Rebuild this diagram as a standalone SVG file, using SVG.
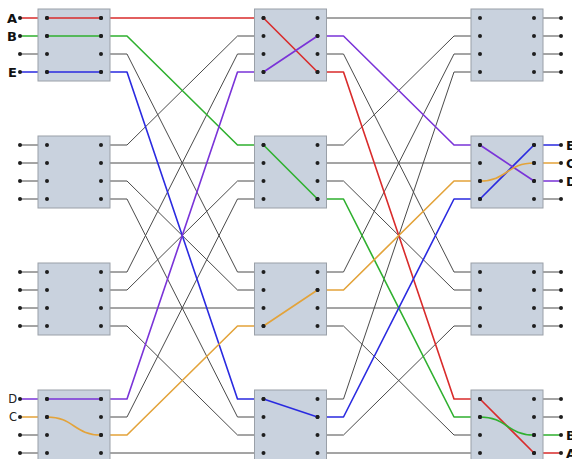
<svg xmlns="http://www.w3.org/2000/svg" width="572" height="459" viewBox="0 0 572 459">
<style>
.box{fill:#c9d2de;stroke:#9aa0a8;stroke-width:1}
.w{fill:none;stroke:#4a4a4a;stroke-width:1}
.c{fill:none;stroke-width:1.6;stroke-linejoin:round}
.red{stroke:#d92b2b}.grn{stroke:#2fb02f}.blu{stroke:#2a2ae0}.pur{stroke:#7a33d8}.org{stroke:#e3a33a}
.d{fill:#1e1e1e}
.lb{font-family:"DejaVu Sans","Liberation Sans",sans-serif;font-weight:bold;font-size:13px;fill:#111}
.ls{font-family:"DejaVu Sans","Liberation Sans",sans-serif;font-size:11.5px;fill:#222}
</style>
<defs>
<g id="ports">
<circle cx="0" cy="0" r="2"/><circle cx="0" cy="18" r="2"/><circle cx="0" cy="36" r="2"/><circle cx="0" cy="54" r="2"/>
<circle cx="54" cy="0" r="2"/><circle cx="54" cy="18" r="2"/><circle cx="54" cy="36" r="2"/><circle cx="54" cy="54" r="2"/>
</g>
</defs>
<g id="connectors">
<!-- left stubs -->
<path class="w" d="M20,54H47M20,145H47M20,163H47M20,181H47M20,199H47M20,272H47M20,290H47M20,308H47M20,326H47M20,435H47M20,453H47"/>
<!-- right stubs -->
<path class="w" d="M534,18H561M534,36H561M534,54H561M534,72H561M534,199H561M534,272H561M534,290H561M534,308H561M534,326H561M534,399H561M534,417H561"/>
<!-- stage 1 gray -->
<path class="w" d="M101,54H127L237.5,272H263.5M101,145H127L237.5,36H263.5M101,163H263.5M101,181H127L237.5,290H263.5M101,199H127L237.5,417H263.5M101,272H127L237.5,54H263.5M101,290H127L237.5,181H263.5M101,308H263.5M101,326H127L237.5,435H263.5M101,417H127L237.5,199H263.5M101,453H263.5"/>
<!-- stage 2 gray -->
<path class="w" d="M317.5,18H480M317.5,54H343.5L454,272H480M317.5,145H343.5L454,36H480M317.5,163H480M317.5,181H343.5L454,290H480M317.5,272H343.5L454,54H480M317.5,308H480M317.5,326H343.5L454,435H480M317.5,399H343.5L454,72H480M317.5,435H343.5L454,326H480M317.5,453H480"/>
<!-- colored routes -->
<path class="c red" d="M20,18H263.5L317.5,72H343.5L454,399H480L534,453H561"/>
<path class="c grn" d="M20,36H127L237.5,145H263.5L317.5,199H343.5L454,417H480C507,417 507,435 534,435H561"/>
<path class="c blu" d="M20,72H127L237.5,399H263.5L317.5,417H343.5L454,199H480L534,145H561"/>
<path class="c pur" d="M20,399H127L237.5,72H263.5L317.5,36H343.5L454,145H480L534,181H561"/>
<path class="c org" d="M20,417H47C74,417 74,435 101,435H127L237.5,326H263.5L317.5,290H343.5L454,181H480C507,181 507,163 534,163H561"/>
<!-- outer dots -->
<g class="d">
<use href="#ports" x="20" y="18"/><use href="#ports" x="20" y="145"/><use href="#ports" x="20" y="272"/><use href="#ports" x="20" y="399"/>
<use href="#ports" x="507" y="18"/><use href="#ports" x="507" y="145"/><use href="#ports" x="507" y="272"/><use href="#ports" x="507" y="399"/>
</g>
</g>
<g id="s1b0"><rect class="box" x="38" y="9" width="72" height="72"/><use class="d" href="#ports" x="47" y="18"/></g>
<g id="s1b1"><rect class="box" x="38" y="136" width="72" height="72"/><use class="d" href="#ports" x="47" y="145"/></g>
<g id="s1b2"><rect class="box" x="38" y="263" width="72" height="72"/><use class="d" href="#ports" x="47" y="272"/></g>
<g id="s1b3"><rect class="box" x="38" y="390" width="72" height="72"/><use class="d" href="#ports" x="47" y="399"/></g>
<g id="s2b0"><rect class="box" x="254.5" y="9" width="72" height="72"/><use class="d" href="#ports" x="263.5" y="18"/></g>
<g id="s2b1"><rect class="box" x="254.5" y="136" width="72" height="72"/><use class="d" href="#ports" x="263.5" y="145"/></g>
<g id="s2b2"><rect class="box" x="254.5" y="263" width="72" height="72"/><use class="d" href="#ports" x="263.5" y="272"/></g>
<g id="s2b3"><rect class="box" x="254.5" y="390" width="72" height="72"/><use class="d" href="#ports" x="263.5" y="399"/></g>
<g id="s3b0"><rect class="box" x="471" y="9" width="72" height="72"/><use class="d" href="#ports" x="480" y="18"/></g>
<g id="s3b1"><rect class="box" x="471" y="136" width="72" height="72"/><use class="d" href="#ports" x="480" y="145"/></g>
<g id="s3b2"><rect class="box" x="471" y="263" width="72" height="72"/><use class="d" href="#ports" x="480" y="272"/></g>
<g id="s3b3"><rect class="box" x="471" y="390" width="72" height="72"/><use class="d" href="#ports" x="480" y="399"/></g>
<!-- internal routes drawn over boxes -->
<g id="routes">
<path class="c red" d="M263.5,18L317.5,72M480,399L534,453"/>
<path class="c grn" d="M263.5,145L317.5,199M480,417C507,417 507,435 534,435M47,36H101"/>
<path class="c blu" d="M263.5,399L317.5,417M480,199L534,145M47,72H101"/>
<path class="c pur" d="M263.5,72L317.5,36M480,145L534,181M47,399H101"/>
<path class="c org" d="M47,417C74,417 74,435 101,435M263.5,326L317.5,290M480,181C507,181 507,163 534,163"/>
<path class="c red" d="M47,18H101"/>
<g class="d">
<circle cx="47" cy="18" r="2"/><circle cx="101" cy="18" r="2"/><circle cx="47" cy="36" r="2"/><circle cx="101" cy="36" r="2"/><circle cx="47" cy="72" r="2"/><circle cx="101" cy="72" r="2"/>
<circle cx="47" cy="399" r="2"/><circle cx="101" cy="399" r="2"/><circle cx="47" cy="417" r="2"/><circle cx="101" cy="435" r="2"/>
<circle cx="263.5" cy="18" r="2"/><circle cx="317.5" cy="72" r="2"/><circle cx="263.5" cy="72" r="2"/><circle cx="317.5" cy="36" r="2"/>
<circle cx="263.5" cy="145" r="2"/><circle cx="317.5" cy="199" r="2"/><circle cx="263.5" cy="326" r="2"/><circle cx="317.5" cy="290" r="2"/>
<circle cx="263.5" cy="399" r="2"/><circle cx="317.5" cy="417" r="2"/>
<circle cx="480" cy="145" r="2"/><circle cx="534" cy="181" r="2"/><circle cx="480" cy="199" r="2"/><circle cx="534" cy="145" r="2"/><circle cx="480" cy="181" r="2"/><circle cx="534" cy="163" r="2"/>
<circle cx="480" cy="399" r="2"/><circle cx="534" cy="453" r="2"/><circle cx="480" cy="417" r="2"/><circle cx="534" cy="435" r="2"/>
</g>
</g>
<g id="labels">
<text class="lb" x="17" y="23" text-anchor="end">A</text>
<text class="lb" x="17" y="41" text-anchor="end">B</text>
<text class="lb" x="17" y="77" text-anchor="end">E</text>
<text class="ls" x="17" y="403" text-anchor="end">D</text>
<text class="ls" x="17" y="421" text-anchor="end">C</text>
<text class="lb" x="566" y="150">E</text>
<text class="lb" x="566" y="168">C</text>
<text class="lb" x="566" y="186">D</text>
<text class="lb" x="566" y="440">B</text>
<text class="lb" x="566" y="458">A</text>
</g>
</svg>
